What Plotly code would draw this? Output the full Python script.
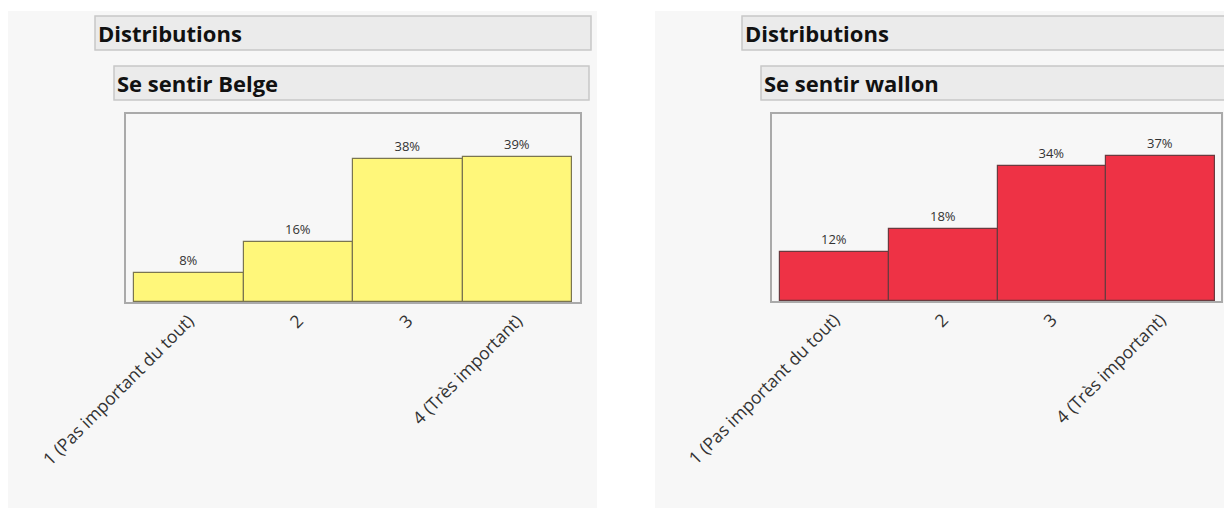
import plotly.graph_objects as go

W, H = 1224, 508

categories = ["1 (Pas important du tout)", "2", "3", "4 (Très important)"]
belge_values = [0.078, 0.161, 0.384, 0.390]
wallon_values = [0.124, 0.184, 0.344, 0.370]

panel_titles = ["Se sentir Belge", "Se sentir wallon"]
section_title = "Distributions"

FONT = "Open Sans"


def px(x):
    return x / W


def py(y):
    return 1 - y / H


fig = go.Figure()

fig.add_trace(go.Bar(
    x=categories, y=belge_values, xaxis="x", yaxis="y",
    marker=dict(color="#FFF77A", line=dict(color="#7A7550", width=1.2)),
    texttemplate="%{y:.0%}", textposition="outside",
    textfont=dict(size=13, color="#333333", family=FONT),
    cliponaxis=False, hoverinfo="skip", width=1,
))
fig.add_trace(go.Bar(
    x=categories, y=wallon_values, xaxis="x2", yaxis="y2",
    marker=dict(color="#EE3245", line=dict(color="#6B3A3F", width=1.2)),
    texttemplate="%{y:.0%}", textposition="outside",
    textfont=dict(size=13, color="#333333", family=FONT),
    cliponaxis=False, hoverinfo="skip", width=1,
))

shapes = []
# panel backgrounds
for x0, x1 in [(8, 597), (655, 1230)]:
    shapes.append(dict(type="rect", xref="paper", yref="paper",
                       x0=px(x0), x1=px(x1), y0=py(512), y1=py(11),
                       fillcolor="#F7F7F7", line=dict(width=0), layer="below"))
# header boxes
headers = [(95, 591, 16, 50), (114, 589, 66, 100), (742, 1240, 16, 50), (761, 1240, 66, 100)]
for x0, x1, y0, y1 in headers:
    shapes.append(dict(type="rect", xref="paper", yref="paper",
                       x0=px(x0), x1=px(x1), y0=py(y1), y1=py(y0),
                       fillcolor="#EBEBEB", line=dict(color="#C8C8C8", width=1.5), layer="below"))

annotations = []
for x, y, t in [(96, 33, section_title), (115, 83, panel_titles[0]),
                (743, 33, section_title), (762, 83, panel_titles[1])]:
    annotations.append(dict(xref="paper", yref="paper", x=px(x), y=py(y),
                            text="<b>" + t + "</b>", showarrow=False,
                            xanchor="left", yanchor="middle",
                            font=dict(family=FONT, size=22, color="#111111")))

xaxis_common = dict(
    type="category", tickangle=-45, showline=True, mirror=True,
    linecolor="#AAAAAA", linewidth=1.5, showgrid=False, ticks="",
    tickfont=dict(family=FONT, size=17.5, color="#333333"), fixedrange=True,
    automargin=False,
)
yaxis_common = dict(showticklabels=False, showgrid=False, zeroline=False,
                    showline=True, mirror=True, linecolor="#AAAAAA", linewidth=1.5,
                    ticks="", fixedrange=True, automargin=False)

fig.update_layout(
    width=W, height=H, autosize=False,
    margin=dict(l=0, r=0, t=0, b=0, pad=0, autoexpand=False),
    paper_bgcolor="white", plot_bgcolor="white",
    showlegend=False, bargap=0,
    shapes=shapes, annotations=annotations,
    xaxis=dict(domain=[px(126), px(580)], anchor="y",
               range=[-0.573, 3.573], **xaxis_common),
    yaxis=dict(domain=[py(302), py(114)], anchor="x", range=[0, 0.505], **yaxis_common),
    xaxis2=dict(domain=[px(772), px(1221)], anchor="y2",
                range=[-0.574, 3.555], **xaxis_common),
    yaxis2=dict(domain=[py(301), py(114)], anchor="x2", range=[0, 0.477], **yaxis_common),
    font=dict(family=FONT),
)

fig.write_html("out.html", config={"displayModeBar": False},
               post_script="document.body.style.margin='0';document.body.style.padding='0';")
